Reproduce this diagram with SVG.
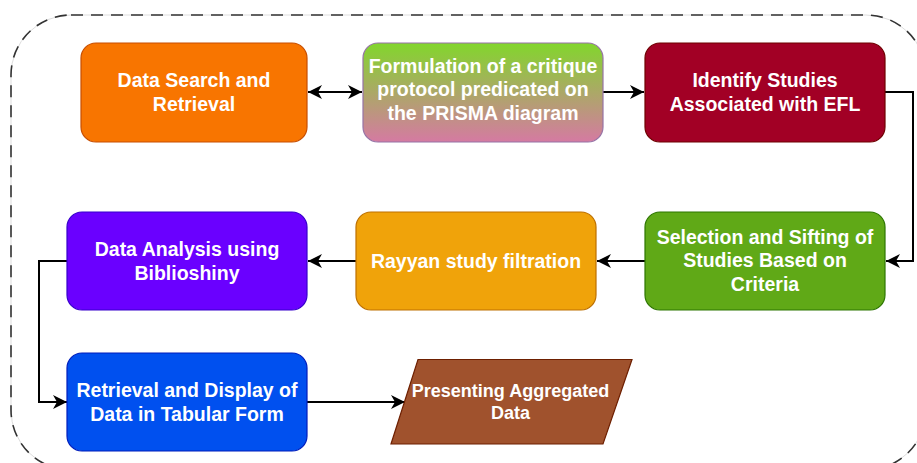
<svg xmlns="http://www.w3.org/2000/svg" width="917" height="463" viewBox="0 0 917 463">
  <defs>
    <linearGradient id="gradPrisma" x1="0" y1="0" x2="0" y2="1">
      <stop offset="0" stop-color="#82D62C"/>
      <stop offset="1" stop-color="#D57AA2"/>
    </linearGradient>
    <marker id="arrowEnd" markerUnits="userSpaceOnUse" markerWidth="16" markerHeight="16" refX="14" refY="7" orient="auto">
      <path d="M0,0 L14,7 L0,14 L4,7 z" fill="#000"/>
    </marker>
    <marker id="arrowStart" markerUnits="userSpaceOnUse" markerWidth="16" markerHeight="16" refX="0" refY="7" orient="auto">
      <path d="M14,0 L0,7 L14,14 L10,7 z" fill="#000"/>
    </marker>
  </defs>
  <style>
    .box { stroke-width: 1.2; }
    .lbl { font-family: "Liberation Sans", Arial, sans-serif; font-weight: bold; font-size: 19.5px; fill: #ffffff; text-anchor: middle; }
    .lbl-sm { font-size: 18px; }
    .conn { fill: none; stroke: #000; stroke-width: 2; }
  </style>

  <g id="frame">
    <rect x="11" y="15" width="915" height="455" rx="60" ry="60" fill="none" stroke="#dddddd" stroke-width="1"/>
    <rect x="11" y="15" width="915" height="455" rx="60" ry="60" fill="none" stroke="#333333" stroke-width="1.6" stroke-dasharray="12 8"/>
  </g>

  <g id="connectors">
    <line class="conn" x1="308" y1="92" x2="362" y2="92" marker-start="url(#arrowStart)" marker-end="url(#arrowEnd)"/>
    <line class="conn" x1="603" y1="92" x2="644" y2="92" marker-end="url(#arrowEnd)"/>
    <path class="conn" d="M885,92 L913,92 L913,261 L886,261" marker-end="url(#arrowEnd)"/>
    <line class="conn" x1="645" y1="261" x2="597" y2="261" marker-end="url(#arrowEnd)"/>
    <line class="conn" x1="356" y1="261" x2="308" y2="261" marker-end="url(#arrowEnd)"/>
    <path class="conn" d="M67,261 L39,261 L39,402 L67,402" marker-end="url(#arrowEnd)"/>
    <line class="conn" x1="307" y1="402" x2="405" y2="402" marker-end="url(#arrowEnd)"/>
  </g>

  <g id="node-data-search">
    <rect class="box" x="81" y="43" width="226" height="99" rx="15" fill="#F87500" stroke="#C74E00"/>
    <text class="lbl" x="194" y="87">Data Search and</text>
    <text class="lbl" x="194" y="111">Retrieval</text>
  </g>

  <g id="node-formulation">
    <rect class="box" x="363" y="43" width="240" height="99" rx="15" fill="url(#gradPrisma)" stroke="#9673A6"/>
    <text class="lbl" x="483" y="72.5">Formulation of a critique</text>
    <text class="lbl" x="483" y="96">protocol predicated on</text>
    <text class="lbl" x="483" y="119.5">the PRISMA diagram</text>
  </g>

  <g id="node-identify">
    <rect class="box" x="645" y="43" width="240" height="99" rx="15" fill="#A20025" stroke="#6F0000"/>
    <text class="lbl" x="765" y="87">Identify Studies</text>
    <text class="lbl" x="765" y="110.5">Associated with EFL</text>
  </g>

  <g id="node-selection">
    <rect class="box" x="645" y="212" width="240" height="98" rx="15" fill="#60A917" stroke="#2D7600"/>
    <text class="lbl" x="765" y="243.5">Selection and Sifting of</text>
    <text class="lbl" x="765" y="267">Studies Based on</text>
    <text class="lbl" x="765" y="290.5">Criteria</text>
  </g>

  <g id="node-rayyan">
    <rect class="box" x="356" y="212" width="240" height="98" rx="15" fill="#F0A30A" stroke="#BD7000"/>
    <text class="lbl" x="476" y="267.5">Rayyan study filtration</text>
  </g>

  <g id="node-analysis">
    <rect class="box" x="67" y="212" width="240" height="98" rx="15" fill="#6A00FF" stroke="#3700CC"/>
    <text class="lbl" x="187" y="256">Data Analysis using</text>
    <text class="lbl" x="187" y="280">Biblioshiny</text>
  </g>

  <g id="node-retrieval-display">
    <rect class="box" x="67" y="353" width="240" height="98" rx="15" fill="#0050EF" stroke="#001DBC"/>
    <text class="lbl" x="187" y="397">Retrieval and Display of</text>
    <text class="lbl" x="187" y="421">Data in Tabular Form</text>
  </g>

  <g id="node-presenting">
    <polygon class="box" points="418,359.5 632,359.5 603,444 391,444" fill="#A0522D" stroke="#6D1F00"/>
    <text class="lbl lbl-sm" x="510.5" y="396.5">Presenting Aggregated</text>
    <text class="lbl lbl-sm" x="510.5" y="419">Data</text>
  </g>
</svg>
